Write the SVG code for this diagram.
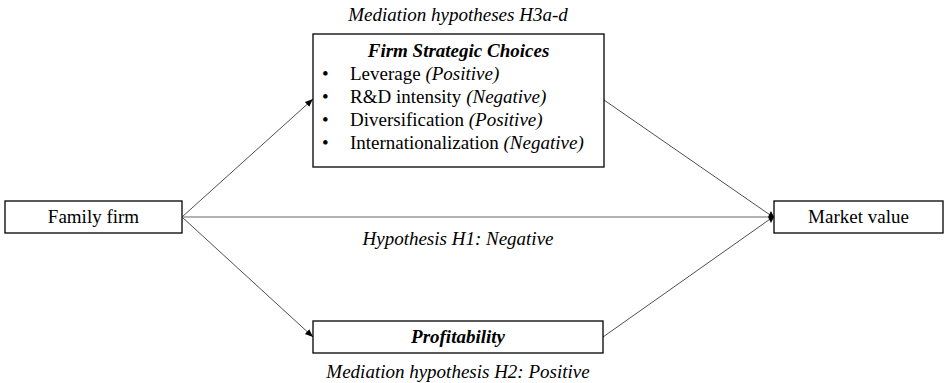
<svg xmlns="http://www.w3.org/2000/svg" width="944" height="383" viewBox="0 0 944 383">
<style>
text{font-family:"Liberation Serif","Times New Roman",serif;font-size:19px;fill:#000}
.it{font-style:italic}
.bi{font-style:italic;font-weight:bold}
.mid{text-anchor:middle}
.box{fill:#fff;stroke:#000;stroke-width:1.3}
.ln{stroke:#222;stroke-width:0.8;fill:none}
.gl{stroke:#999;stroke-width:1.3;fill:none}
</style>
<defs>
<marker id="ah" viewBox="0 0 10 10" refX="10" refY="5" markerWidth="8" markerHeight="8" markerUnits="userSpaceOnUse" orient="auto">
<path d="M0,1 L10,5 L0,9 z" fill="#000"/>
</marker>
</defs>
<g id="connectors">
<line class="ln" x1="182" y1="217" x2="313" y2="99" marker-end="url(#ah)"/>
<line class="ln" x1="182" y1="217" x2="313" y2="337" marker-end="url(#ah)"/>
<line class="gl" x1="182" y1="217" x2="768" y2="217"/>
<line class="ln" x1="604" y1="100" x2="773" y2="217"/>
<line class="ln" x1="603" y1="337" x2="773" y2="217"/>
<path d="M768,217 L771,211 L774,217 L771,223 z" fill="#000"/>
</g>
<g id="family-firm">
<rect class="box" x="5" y="201" width="177" height="32"/>
<text class="mid" x="93.5" y="223">Family firm</text>
</g>
<g id="market-value">
<rect class="box" x="774" y="201" width="169" height="32"/>
<text class="mid" x="858.5" y="223">Market value</text>
</g>
<g id="strategic-choices">
<rect class="box" x="313" y="34" width="291" height="133"/>
<text class="bi mid" x="458.5" y="57">Firm Strategic Choices</text>
<text x="322" y="80">•</text><text x="350" y="80">Leverage  <tspan class="it">(Positive)</tspan></text>
<text x="322" y="103">•</text><text x="350" y="103">R&amp;D intensity  <tspan class="it">(Negative)</tspan></text>
<text x="322" y="126">•</text><text x="350" y="126">Diversification  <tspan class="it">(Positive)</tspan></text>
<text x="322" y="149">•</text><text x="350" y="149">Internationalization  <tspan class="it">(Negative)</tspan></text>
</g>
<g id="profitability">
<rect class="box" x="313" y="321" width="290" height="32"/>
<text class="bi mid" x="458" y="343">Profitability</text>
</g>
<g id="labels">
<text class="it mid" x="458" y="21">Mediation hypotheses H3a-d</text>
<text class="it mid" x="458" y="245">Hypothesis H1: Negative</text>
<text class="it mid" x="458" y="378">Mediation hypothesis H2: Positive</text>
</g>
</svg>
